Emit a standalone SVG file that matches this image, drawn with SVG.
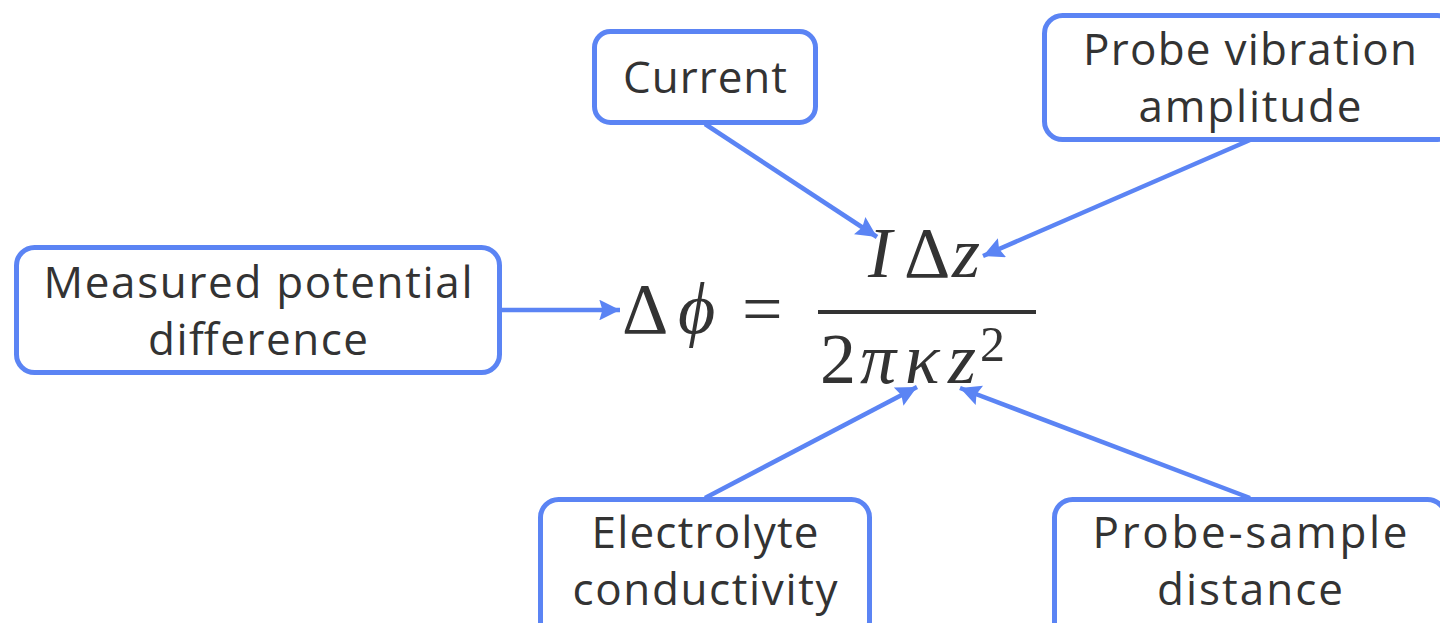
<svg xmlns="http://www.w3.org/2000/svg" width="1440" height="623" viewBox="0 0 1440 623">
  <style>
    .box { fill: #ffffff; stroke: #5b84f4; stroke-width: 5; }
    .lbl { font-family: "Open Sans", "Liberation Sans", sans-serif; font-size: 44px; font-weight: 400; fill: #333333; text-anchor: middle; }
    .conn { stroke: #5b84f4; stroke-width: 4.5; fill: none; }
    .eq { font-family: "Liberation Serif", "DejaVu Serif", serif; font-size: 72px; fill: #333333; }
    .it { font-style: italic; }
    .eq.sup { font-size: 50px; }
  </style>
  <defs>
    <marker id="arrow" viewBox="0 0 10 10" refX="10" refY="5" markerWidth="5.5" markerHeight="4.6" markerUnits="strokeWidth" orient="auto">
      <path d="M0,0 L10,5 L0,10 L1.5,5 Z" fill="#5b84f4"/>
    </marker>
  </defs>
  <rect width="1440" height="623" fill="#ffffff"/>

  <g id="connectors">
    <line class="conn" x1="500" y1="310" x2="620" y2="310" marker-end="url(#arrow)"/>
    <line class="conn" x1="705" y1="124" x2="877" y2="237" marker-end="url(#arrow)"/>
    <line class="conn" x1="1250" y1="140" x2="983" y2="256" marker-end="url(#arrow)"/>
    <line class="conn" x1="705" y1="498" x2="917" y2="387" marker-end="url(#arrow)"/>
    <line class="conn" x1="1250" y1="498" x2="960" y2="388" marker-end="url(#arrow)"/>
  </g>

  <g id="node-current">
    <rect class="box" x="594.5" y="31.5" width="221" height="91" rx="16"/>
    <text class="lbl" x="705" y="93" textLength="164" lengthAdjust="spacing">Current</text>
  </g>

  <g id="node-probe-vibration">
    <rect class="box" x="1044.5" y="15.5" width="411" height="124" rx="18"/>
    <text class="lbl" x="1250" y="65" textLength="334" lengthAdjust="spacing">Probe vibration</text>
    <text class="lbl" x="1250" y="122" textLength="223" lengthAdjust="spacing">amplitude</text>
  </g>

  <g id="node-measured">
    <rect class="box" x="16.5" y="247.5" width="483" height="125" rx="18"/>
    <text class="lbl" x="258" y="298" textLength="429" lengthAdjust="spacing">Measured potential</text>
    <text class="lbl" x="258" y="355" textLength="220" lengthAdjust="spacing">difference</text>
  </g>

  <g id="node-electrolyte">
    <rect class="box" x="540.5" y="499.5" width="329" height="140" rx="18"/>
    <text class="lbl" x="705" y="548" textLength="227" lengthAdjust="spacing">Electrolyte</text>
    <text class="lbl" x="705" y="605" textLength="265" lengthAdjust="spacing">conductivity</text>
  </g>

  <g id="node-probe-sample">
    <rect class="box" x="1054.5" y="499.5" width="391" height="140" rx="18"/>
    <text class="lbl" x="1250" y="548" textLength="315" lengthAdjust="spacing">Probe-sample</text>
    <text class="lbl" x="1250" y="605" textLength="186" lengthAdjust="spacing">distance</text>
  </g>

  <g id="node-equation">
    <text class="eq" x="622" y="333">Δ</text>
    <text class="eq it" x="678" y="333">ϕ</text>
    <text class="eq" x="742" y="333">=</text>
    <line x1="818" y1="312" x2="1036" y2="312" stroke="#333333" stroke-width="4"/>
    <text class="eq it" x="868" y="277">I</text>
    <text class="eq" x="904" y="277">Δ</text>
    <text class="eq it" x="952" y="277">z</text>
    <text class="eq" x="820" y="383">2</text>
    <text class="eq it" x="860" y="383">π</text>
    <text class="eq it" x="905" y="383">κ</text>
    <text class="eq it" x="948" y="383">z</text>
    <text class="eq sup" x="980" y="361">2</text>
  </g>
</svg>
